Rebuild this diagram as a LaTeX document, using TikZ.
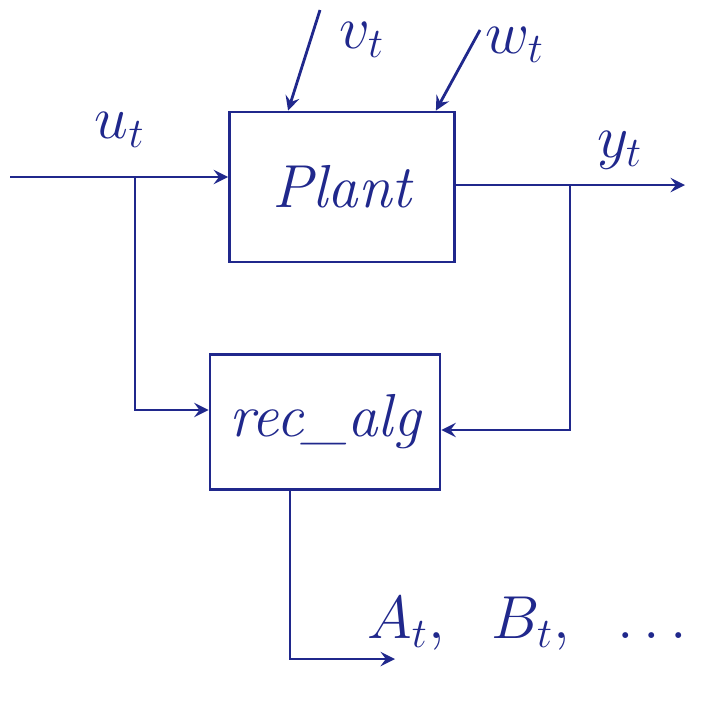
\documentclass[tikz,border=0pt]{standalone}
\usepackage{amsmath,amssymb}
\usepackage{xcolor}
\usetikzlibrary{arrows, positioning, calc}

\definecolor{ink}{RGB}{32,40,140}

\begin{document}
\begin{tikzpicture}[
    block/.style={rectangle, draw=ink, thick, minimum width=2.25cm, minimum height=1.5cm, font=\LARGE\itshape, text=ink},
    arrow/.style={thick, ->, >=stealth, draw=ink},
    lbl/.style={text=ink, font=\LARGE}
]
    \useasboundingbox (0,0) rectangle (7.24,7.09);

    % Nodes
    \node (plant) [block] at (3.42,5.22) {Plant};
    \node (rec) [block, minimum width=2.3cm, minimum height=1.35cm] at (3.25,2.87) {rec\_alg};

    \coordinate (uin) at (0.1,5.32);
    \coordinate (ubr) at (1.35,5.32);
    \coordinate (ydn) at (5.7,5.24);
    \coordinate (yout) at (6.85,5.24);
    \coordinate (vin) at (3.2,6.99);
    \coordinate (win) at (4.8,6.79);
    \coordinate (recout) at (2.9,2.195);
    \coordinate (aout) at (3.95,0.5);

    % Labels
    \node (ulbl) [lbl] at (1.2,5.79) {$u_t$};
    \node (vlbl) [lbl] at (3.62,6.69) {$v_t$};
    \node (wlbl) [lbl] at (5.15,6.64) {$w_t$};
    \node (ylbl) [lbl] at (6.2,5.59) {$y_t$};
    \node (ablbl) [lbl, anchor=west] at (3.55,0.85) {$A_t,\ \ B_t,\ \ \dots$};

    % Flows
    \draw [arrow] (uin) -- (plant.west |- uin);
    \draw [arrow] (vin) -- ($(plant.north west)+(0.6,0)$);
    \draw [arrow] (win) -- ($(plant.north east)+(-0.2,0)$);
    \draw [arrow] (plant.east |- ydn) -- (yout);
    \draw [arrow] (ubr) |- ($(rec.west)+(0,0.12)$);
    \draw [arrow] (ydn) |- ($(rec.east)+(0,-0.08)$);
    \draw [arrow] (recout) |- (aout);

\end{tikzpicture}
\end{document}
